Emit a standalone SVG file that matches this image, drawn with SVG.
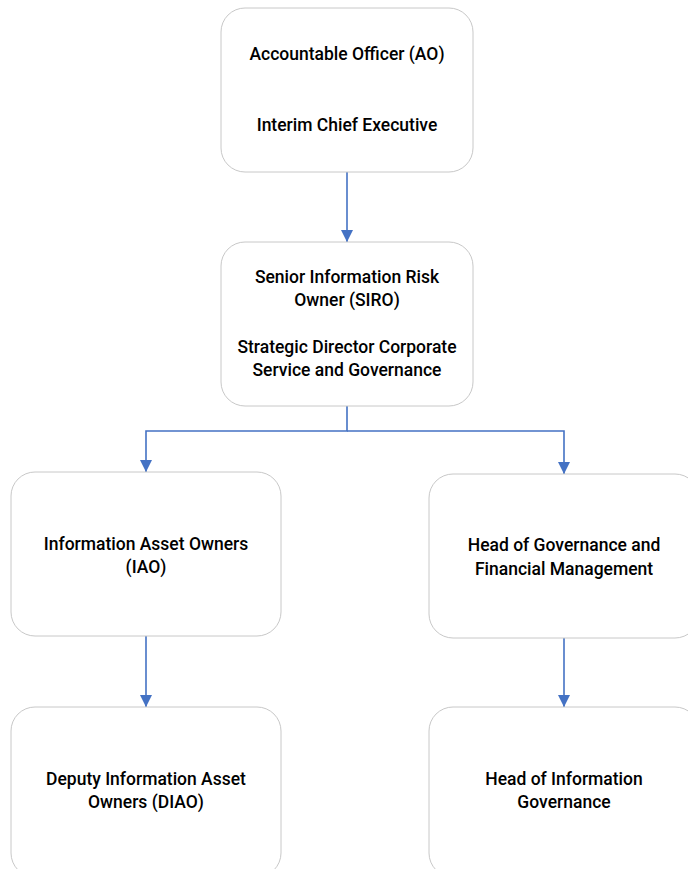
<svg xmlns="http://www.w3.org/2000/svg" width="688" height="869" viewBox="0 0 688 869">
<style>
.box{fill:#fff;stroke:#c8c8c8;stroke-width:1}
.t{font-family:Roboto,"DejaVu Sans",sans-serif;font-size:17.5px;font-weight:500;fill:#000;text-anchor:middle}
.c{fill:none;stroke:#4472c4;stroke-width:1.6}
</style>
<defs>
<marker id="ah" viewBox="0 0 12 12" refX="12" refY="6" markerWidth="12" markerHeight="12" markerUnits="userSpaceOnUse" orient="auto">
<path d="M0,0 L12,6 L0,12 z" fill="#4472c4"/>
</marker>
</defs>
<rect width="688" height="869" fill="#fff"/>
<g id="connectors">
<path class="c" d="M347,172 V242" marker-end="url(#ah)"/>
<path class="c" d="M347,406 V431 H146 V472" marker-end="url(#ah)"/>
<path class="c" d="M347,431 H564 V474" marker-end="url(#ah)"/>
<path class="c" d="M146,636 V707" marker-end="url(#ah)"/>
<path class="c" d="M564,638 V707" marker-end="url(#ah)"/>
</g>
<g id="ao">
<rect class="box" x="221" y="8" width="252" height="164" rx="24"/>
<text class="t" x="347" y="60">Accountable Officer (AO)</text>
<text class="t" x="347" y="131">Interim Chief Executive</text>
</g>
<g id="siro">
<rect class="box" x="221" y="242" width="252" height="164" rx="24"/>
<text class="t" x="347" y="283">Senior Information Risk</text>
<text class="t" x="347" y="306">Owner (SIRO)</text>
<text class="t" x="347" y="353">Strategic Director Corporate</text>
<text class="t" x="347" y="376">Service and Governance</text>
</g>
<g id="iao">
<rect class="box" x="11" y="472" width="270" height="164" rx="24"/>
<text class="t" x="146" y="550">Information Asset Owners</text>
<text class="t" x="146" y="573">(IAO)</text>
</g>
<g id="hgfm">
<rect class="box" x="429" y="474" width="270" height="164" rx="24"/>
<text class="t" x="564" y="551">Head of Governance and</text>
<text class="t" x="564" y="575">Financial Management</text>
</g>
<g id="diao">
<rect class="box" x="11" y="707" width="270" height="170" rx="24"/>
<text class="t" x="146" y="785">Deputy  Information Asset</text>
<text class="t" x="146" y="808">Owners (DIAO)</text>
</g>
<g id="hig">
<rect class="box" x="429" y="707" width="270" height="170" rx="24"/>
<text class="t" x="564" y="785">Head of Information</text>
<text class="t" x="564" y="808">Governance</text>
</g>
</svg>
